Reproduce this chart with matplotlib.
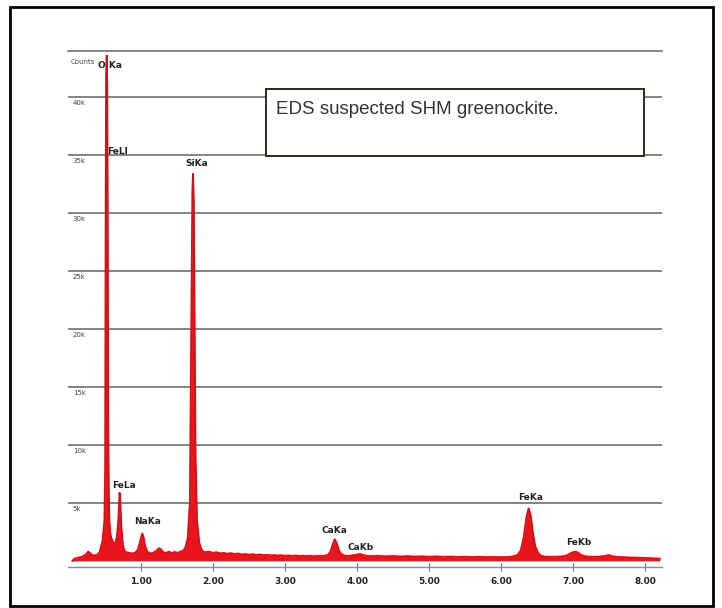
import matplotlib
matplotlib.use("Agg")
import matplotlib.pyplot as plt
from matplotlib.patches import Rectangle

# ---- data ----
energy_kev = [0.05, 0.07, 0.10, 0.14, 0.18, 0.21, 0.24, 0.27, 0.30, 0.33, 0.36, 0.40, 0.43, 0.45,
              0.47, 0.48, 0.495, 0.505, 0.512, 0.518, 0.527, 0.535, 0.541, 0.548, 0.556, 0.565,
              0.575, 0.59, 0.61, 0.63, 0.65, 0.67, 0.69, 0.705, 0.715, 0.73, 0.75, 0.77, 0.80,
              0.84, 0.88, 0.92, 0.96, 0.99, 1.02, 1.04, 1.06, 1.09, 1.13, 1.17, 1.21, 1.25, 1.28,
              1.31, 1.35, 1.39, 1.43, 1.47, 1.51, 1.55, 1.59, 1.62, 1.65, 1.68, 1.705, 1.715,
              1.725, 1.735, 1.745, 1.76, 1.78, 1.81, 1.84, 1.87, 1.90, 1.95, 2.00, 2.05, 2.10, 2.15,
              2.20, 2.25, 2.30, 2.35, 2.40, 2.45, 2.50, 2.55, 2.60, 2.65, 2.70, 2.75, 2.80, 2.85,
              2.90, 2.95, 3.00, 3.05, 3.10, 3.15, 3.20, 3.25, 3.30, 3.35, 3.40, 3.45, 3.50, 3.55,
              3.60, 3.63, 3.66, 3.69, 3.72, 3.75, 3.78, 3.82, 3.86, 3.90, 3.95, 4.00, 4.04, 4.08,
              4.12, 4.20, 4.30, 4.40, 4.50, 4.60, 4.70, 4.80, 4.90, 5.00, 5.10, 5.20, 5.30, 5.40,
              5.50, 5.60, 5.70, 5.80, 5.90, 6.00, 6.08, 6.15, 6.22, 6.27, 6.31, 6.35, 6.38, 6.41,
              6.44, 6.47, 6.51, 6.55, 6.60, 6.68, 6.76, 6.85, 6.92, 6.97, 7.02, 7.06, 7.10, 7.15,
              7.20, 7.28, 7.36, 7.42, 7.46, 7.49, 7.53, 7.60, 7.70, 7.80, 7.90, 8.00, 8.10, 8.20]
counts = [0, 150, 250, 300, 350, 450, 600, 800, 650, 500, 480, 550, 800, 1300,
          1800, 2500, 3500, 8000, 30000, 42000, 43600, 41000, 30000, 12000, 6000, 3500,
          2500, 2000, 1700, 1500, 1600, 2200, 3800, 5900, 5200, 3000, 1500, 900, 750,
          700, 650, 700, 1000, 1700, 2400, 2000, 1300, 800, 650, 700, 850, 1100, 1000,
          750, 700, 800, 680, 780, 700, 800, 900, 1200, 2000, 5000, 25000, 32000,
          33400, 31000, 22000, 9000, 3500, 1600, 1000, 800, 760, 800, 700, 760, 650, 700,
          620, 680, 600, 640, 560, 600, 540, 580, 520, 560, 500, 530, 480, 510,
          470, 500, 450, 480, 440, 470, 430, 450, 420, 450, 410, 440, 420, 450,
          550, 800, 1400, 1900, 1500, 900, 600, 480, 430, 450, 500, 560, 600, 520,
          450, 420, 440, 400, 430, 390, 420, 380, 400, 370, 390, 360, 380, 350,
          370, 340, 360, 340, 350, 330, 340, 380, 500, 900, 2000, 3800, 4570, 3900,
          2400, 1300, 700, 450, 380, 360, 370, 400, 500, 700, 800, 750, 550, 420,
          380, 360, 380, 420, 470, 520, 420, 360, 330, 300, 280, 260, 230, 200]

peak_labels = ["O Ka", "FeLl", "FeLa", "NaKa", "SiKa", "CaKa", "CaKb", "FeKa", "FeKb"]
peak_label_kev = [0.57, 0.67, 0.76, 1.09, 1.77, 3.69, 4.05, 6.41, 7.07]
peak_label_counts = [42700, 35300, 6500, 3400, 34300, 2600, 1200, 5500, 1550]

grid_values = [5000, 10000, 15000, 20000, 25000, 30000, 35000, 40000]
grid_labels = ["5k", "10k", "15k", "20k", "25k", "30k", "35k", "40k"]
x_ticks = [1, 2, 3, 4, 5, 6, 7, 8]
x_tick_labels = ["1.00", "2.00", "3.00", "4.00", "5.00", "6.00", "7.00", "8.00"]
title_text = "EDS suspected SHM greenockite."

# ---- figure ----
W, H = 722, 608
fig = plt.figure(figsize=(W / 100, H / 100), dpi=100)
fig.patch.set_facecolor("white")

ax_left, ax_right, ax_top, ax_bot = 68, 662, 51, 567
ax = fig.add_axes([ax_left / W, 1 - ax_bot / H, (ax_right - ax_left) / W, (ax_bot - ax_top) / H])
ax.set_xlim(-0.01, 8.23)
ax.set_ylim(-520, 43960)

for v in grid_values:
    ax.axhline(v, color="#7a7a7a", lw=1.3, zorder=1)

ax.fill_between(energy_kev, counts, 0, color="#e8161c", lw=0, zorder=3)
ax.plot(energy_kev, counts, color="#d41016", lw=1.3, zorder=3, solid_joinstyle="miter")

for s in ["left", "right"]:
    ax.spines[s].set_visible(False)
ax.spines["top"].set_color("#7a7a7a")
ax.spines["top"].set_linewidth(1.3)
ax.spines["bottom"].set_color("#8a8a8a")
ax.spines["bottom"].set_linewidth(1.0)

ax.set_yticks([])
ax.set_xticks(x_ticks)
ax.set_xticklabels(x_tick_labels, fontsize=6.5, fontweight="bold", color="#222222")
ax.tick_params(axis="x", direction="inout", length=6, width=0.8, color="#777777", pad=4)

# y labels inside the plot
ax.text(0.005, 43300, "Counts", fontsize=5, color="#444444", va="top", ha="left",
        transform=ax.get_yaxis_transform())
for v, lab in zip(grid_values, grid_labels):
    ax.annotate(lab, (0.008, v), xycoords=ax.get_yaxis_transform(), xytext=(0, -2),
                textcoords="offset points", fontsize=5, color="#444444", va="top", ha="left")

for lab, x, y in zip(peak_labels, peak_label_kev, peak_label_counts):
    ax.text(x, y, lab, fontsize=6.5, fontweight="bold", color="#222222", ha="center",
            va="center", zorder=6)

# title box
bx0, by0, bx1, by1 = 266, 89, 644, 156
fig.patches.append(Rectangle((bx0 / W, 1 - by1 / H), (bx1 - bx0) / W, (by1 - by0) / H,
                             transform=fig.transFigure, facecolor="white",
                             edgecolor="#2a2a1e", lw=1.4, zorder=5))
fig.text(276 / W, 1 - 110 / H, title_text, fontsize=13.5, family="Liberation Sans",
         color="#333333", ha="left", va="center", zorder=6)

# outer frame
fig.patches.append(Rectangle((10 / W, 1 - 606 / H), 703 / W, 599 / H, transform=fig.transFigure,
                             facecolor="none", edgecolor="black", lw=2.0, zorder=7))

fig.savefig("out.png", dpi=100, facecolor="white")
